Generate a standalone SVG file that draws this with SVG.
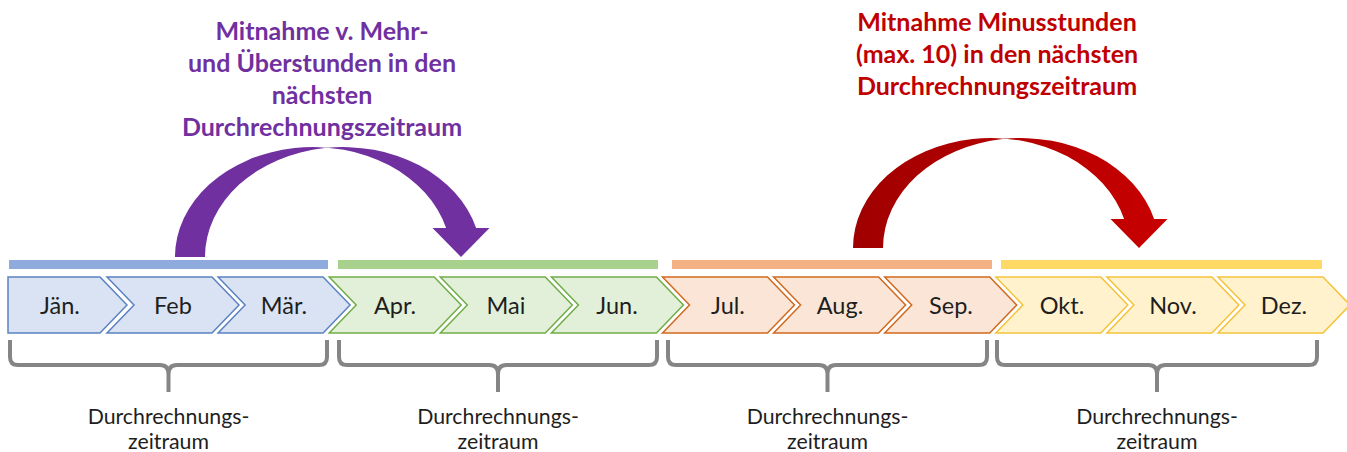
<svg xmlns="http://www.w3.org/2000/svg" width="1347" height="452" viewBox="0 0 1347 452">
<defs>
<style>
.mon{font-family:Lato,"Open Sans",sans-serif;font-size:23.5px;fill:#1e1e1e;text-anchor:middle}
.lbl{font-family:Lato,"Open Sans",sans-serif;font-size:21.3px;fill:#1e1e1e;text-anchor:middle}
.ttl{font-family:Lato,"Open Sans",sans-serif;font-size:25px;font-weight:bold;text-anchor:middle}
.blue{fill:#dae3f3;stroke:#5b82c2;stroke-width:1.5}
.green{fill:#e2f0d9;stroke:#70ad47;stroke-width:1.5}
.orange{fill:#fbe5d6;stroke:#d2691e;stroke-width:1.5}
.yellow{fill:#fff2cc;stroke:#f4c33a;stroke-width:1.5}
.brace{fill:none;stroke:#858585;stroke-width:4;stroke-linejoin:round}
</style>
<linearGradient id="redg" x1="0" y1="0" x2="1" y2="0">
<stop offset="0" stop-color="#a00000"/>
<stop offset="1" stop-color="#c80000"/>
</linearGradient>
<path id="arc" d="M175,257 A138,110 0 0 1 446.1,228 L432.5,228 L461,257 L489.5,228 L476.1,228 A138,110 0 0 0 205,257 Z"/>
</defs>
<rect width="1347" height="452" fill="#ffffff"/>

<g id="bars">
<rect x="9" y="260" width="319" height="9" fill="#8faadc"/>
<rect x="338" y="260" width="320" height="9" fill="#a9d18e"/>
<rect x="672" y="260" width="320" height="9" fill="#f4b183"/>
<rect x="1001" y="260" width="321" height="9" fill="#ffd966"/>
</g>

<g id="m01"><path class="blue" d="M8,277 H100 L127,305 L100,333 H8 Z"/><text class="mon" x="60" y="314">Jän.</text></g>
<g id="m02"><path class="blue" d="M107,277 H212 L239,305 L212,333 H107 L134,305 Z"/><text class="mon" x="173" y="314">Feb</text></g>
<g id="m03"><path class="blue" d="M218.1,277 H323.1 L350.1,305 L323.1,333 H218.1 L245.1,305 Z"/><text class="mon" x="284" y="314">Mär.</text></g>
<g id="m04"><path class="green" d="M329.2,277 H434.2 L461.2,305 L434.2,333 H329.2 L356.2,305 Z"/><text class="mon" x="395" y="314">Apr.</text></g>
<g id="m05"><path class="green" d="M440.3,277 H545.3 L572.3,305 L545.3,333 H440.3 L467.3,305 Z"/><text class="mon" x="506" y="314">Mai</text></g>
<g id="m06"><path class="green" d="M551.4,277 H656.4 L683.4,305 L656.4,333 H551.4 L578.4,305 Z"/><text class="mon" x="617" y="314">Jun.</text></g>
<g id="m07"><path class="orange" d="M662.5,277 H767.5 L794.5,305 L767.5,333 H662.5 L689.5,305 Z"/><text class="mon" x="728" y="314">Jul.</text></g>
<g id="m08"><path class="orange" d="M773.6,277 H878.6 L905.6,305 L878.6,333 H773.6 L800.6,305 Z"/><text class="mon" x="840" y="314">Aug.</text></g>
<g id="m09"><path class="orange" d="M884.7,277 H989.7 L1016.7,305 L989.7,333 H884.7 L911.7,305 Z"/><text class="mon" x="951" y="314">Sep.</text></g>
<g id="m10"><path class="yellow" d="M995.8,277 H1100.8 L1127.8,305 L1100.8,333 H995.8 L1022.8,305 Z"/><text class="mon" x="1062" y="314">Okt.</text></g>
<g id="m11"><path class="yellow" d="M1106.9,277 H1211.9 L1238.9,305 L1211.9,333 H1106.9 L1133.9,305 Z"/><text class="mon" x="1173" y="314">Nov.</text></g>
<g id="m12"><path class="yellow" d="M1218,277 H1323 L1350,305 L1323,333 H1218 L1245,305 Z"/><text class="mon" x="1284" y="314">Dez.</text></g>

<g id="period1"><path class="brace" d="M10,340 V357 Q10,365 18,365 H160 Q168.5,365 168.5,374 V392 M327,340 V357 Q327,365 319,365 H177 Q168.5,365 168.5,374"/>
<text class="lbl" x="168.5" y="424">Durchrechnungs-</text><text class="lbl" x="168.5" y="449">zeitraum</text></g>
<g id="period2"><path class="brace" d="M339,340 V357 Q339,365 347,365 H489.5 Q498,365 498,374 V392 M657,340 V357 Q657,365 649,365 H506.5 Q498,365 498,374"/>
<text class="lbl" x="498" y="424">Durchrechnungs-</text><text class="lbl" x="498" y="449">zeitraum</text></g>
<g id="period3"><path class="brace" d="M668,340 V357 Q668,365 676,365 H819 Q827.5,365 827.5,374 V392 M987,340 V357 Q987,365 979,365 H836 Q827.5,365 827.5,374"/>
<text class="lbl" x="827.5" y="424">Durchrechnungs-</text><text class="lbl" x="827.5" y="449">zeitraum</text></g>
<g id="period4"><path class="brace" d="M997,340 V357 Q997,365 1005,365 H1148.5 Q1157,365 1157,374 V392 M1317,340 V357 Q1317,365 1309,365 H1165.5 Q1157,365 1157,374"/>
<text class="lbl" x="1157" y="424">Durchrechnungs-</text><text class="lbl" x="1157" y="449">zeitraum</text></g>

<g id="note-plus">
<text class="ttl" fill="#7030a0" x="322" y="40">Mitnahme v. Mehr-</text>
<text class="ttl" fill="#7030a0" x="322" y="72">und Überstunden in den</text>
<text class="ttl" fill="#7030a0" x="322" y="104">nächsten</text>
<text class="ttl" fill="#7030a0" x="322" y="136">Durchrechnungszeitraum</text>
</g>
<g id="note-minus">
<text class="ttl" fill="#c00000" x="997" y="31">Mitnahme Minusstunden</text>
<text class="ttl" fill="#c00000" x="997" y="63">(max. 10) in den nächsten</text>
<text class="ttl" fill="#c00000" x="997" y="95">Durchrechnungszeitraum</text>
</g>

<g id="connectors">
<use href="#arc" fill="#7030a0"/>
<use href="#arc" fill="url(#redg)" transform="translate(678,-9)"/>
</g>
</svg>
